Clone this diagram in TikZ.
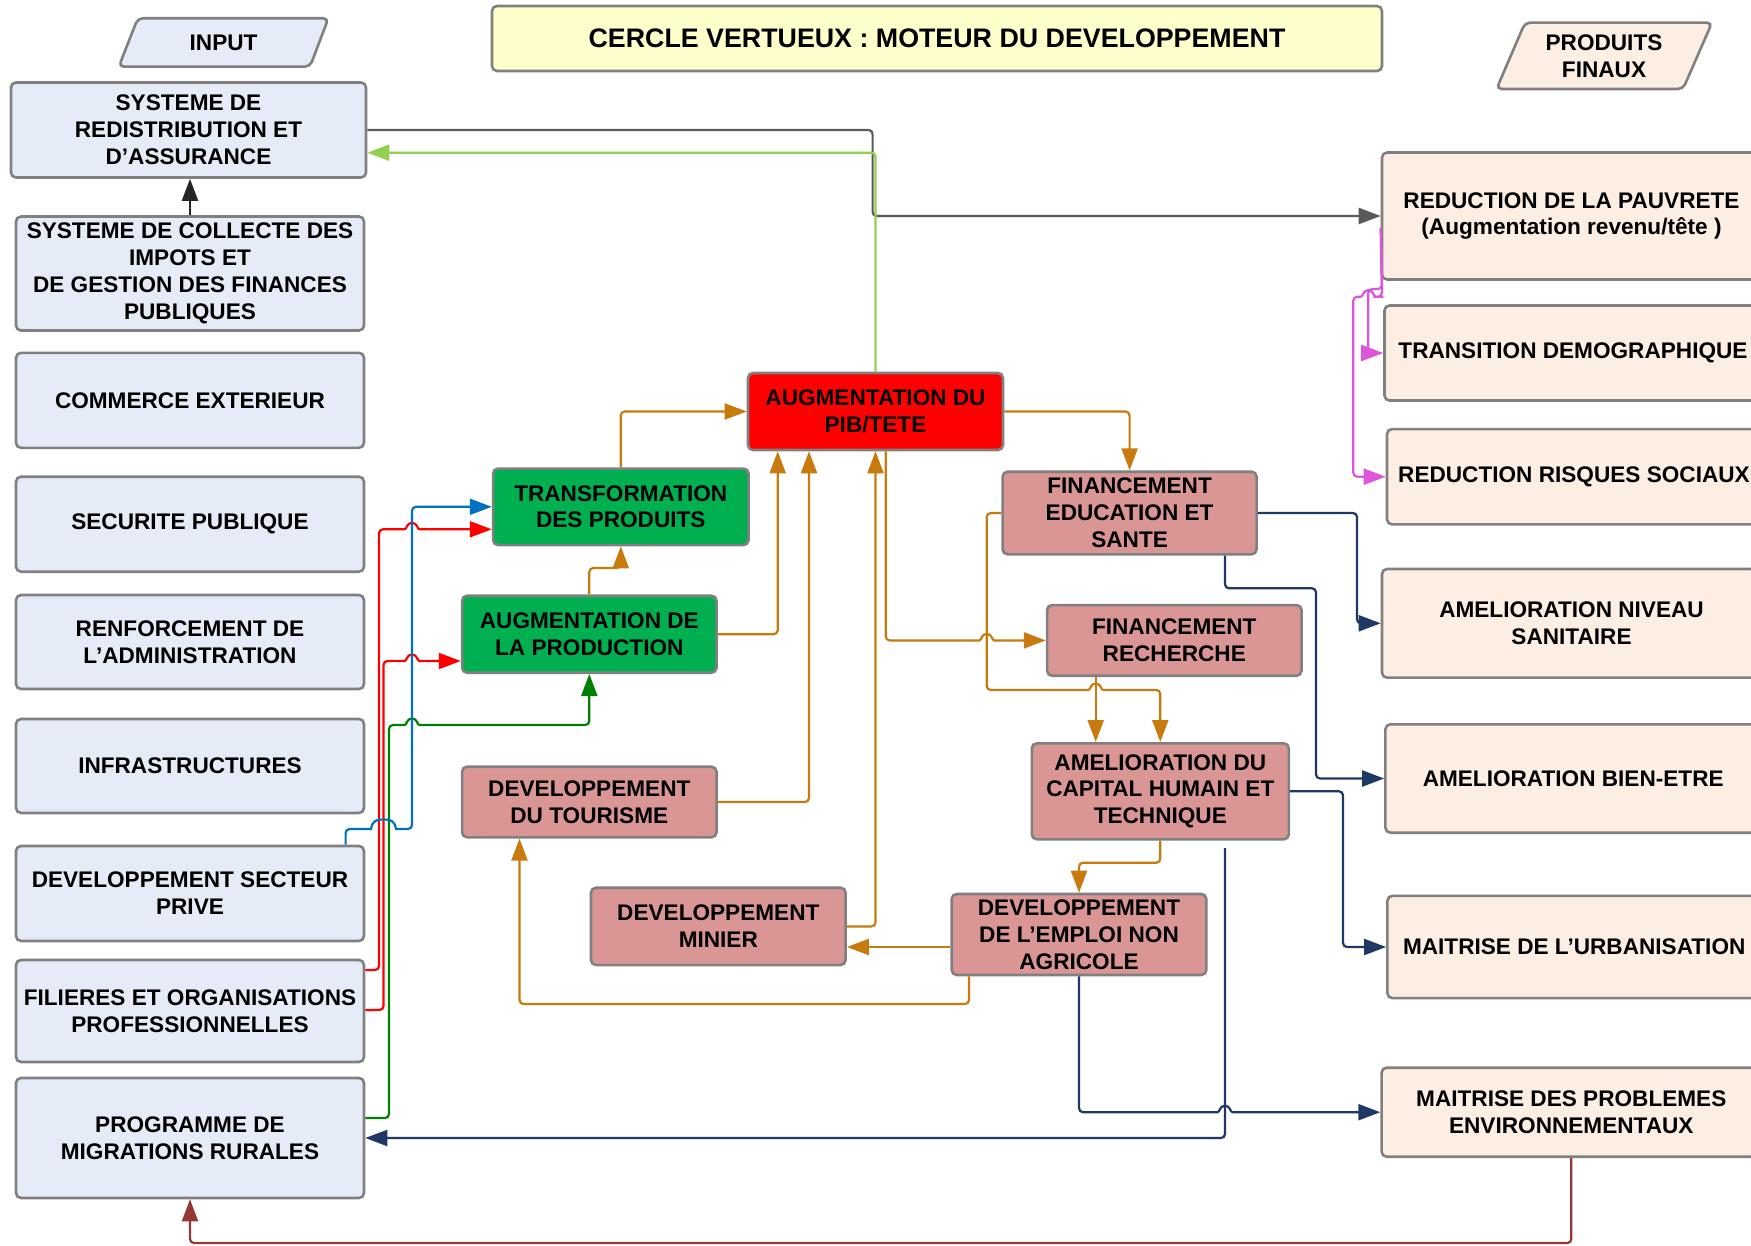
\documentclass[tikz,border=0pt]{standalone}
\usepackage{fontspec}
\setmainfont{Liberation Sans}
\usetikzlibrary{arrows.meta,calc}
\definecolor{leftfill}{RGB}{230,236,247}
\definecolor{rightfill}{RGB}{253,238,228}
\definecolor{pinkfill}{RGB}{217,150,148}
\definecolor{greenfill}{RGB}{0,176,80}
\definecolor{redfill}{RGB}{255,0,0}
\definecolor{titlefill}{RGB}{255,255,204}
\definecolor{bordergray}{RGB}{128,128,128}
\definecolor{corange}{RGB}{201,122,15}
\definecolor{cnavy}{RGB}{31,56,100}
\definecolor{cdred}{RGB}{149,55,53}
\definecolor{cmag}{RGB}{221,84,221}
\definecolor{clgreen}{RGB}{146,208,80}
\definecolor{cgray}{RGB}{89,89,89}
\definecolor{cblue}{RGB}{0,112,192}
\definecolor{cgreen}{RGB}{0,128,0}
\definecolor{cred}{RGB}{255,0,0}
\definecolor{cblack}{RGB}{38,38,38}
% horizontal line jumps (going right / going left) over a vertical line at x=#1, line at y=#2
\newcommand\hjr[2]{-- ({#1-11},{#2}) [sharp corners] -- ({#1-7.5},{#2}) .. controls ({#1-5},{#2}) and ({#1-5.5},{#2-6.5}) .. ({#1},{#2-6.5}) .. controls ({#1+5.5},{#2-6.5}) and ({#1+5},{#2}) .. ({#1+7.5},{#2}) -- ({#1+11},{#2}) [rounded corners=2pt]}
\newcommand\hjl[2]{-- ({#1+11},{#2}) [sharp corners] -- ({#1+7.5},{#2}) .. controls ({#1+5},{#2}) and ({#1+5.5},{#2-6.5}) .. ({#1},{#2-6.5}) .. controls ({#1-5.5},{#2-6.5}) and ({#1-5},{#2}) .. ({#1-7.5},{#2}) -- ({#1-11},{#2}) [rounded corners=2pt]}
\begin{document}
\begin{tikzpicture}[x=0.5pt,y=-0.5pt,
  nfont/.style={font=\bfseries\fontsize{11.3pt}{13.4pt}\selectfont},
  box/.style={draw=bordergray, line width=1.3pt, rounded corners=2.5pt, align=center, inner xsep=2pt, inner ysep=0.5pt, nfont},
  sz/.style 2 args={minimum width=#1*0.5pt, minimum height=#2*0.5pt},
  lbox/.style={box, fill=leftfill},
  rbox/.style={box, fill=rightfill},
  gbox/.style={box, fill=greenfill},
  pbox/.style={box, fill=pinkfill},
  conn/.style={line width=1.1pt, rounded corners=2pt, -{Triangle[length=11pt,width=8pt]}},
  para/.style={draw=bordergray, line width=1.3pt, rounded corners=2.5pt}
]
\useasboundingbox (0,0) rectangle (1751,1246);
\clip (0,0) rectangle (1751,1246);
\fill[white] (0,0) rectangle (1751,1246);

% headers
\filldraw[para, fill=leftfill] (137.8,18.3) -- (328.4,18.3) -- (310,66.7) -- (118.8,66.7) -- cycle;
\node[nfont] (input) at (223.6,42.5) {INPUT};
\filldraw[para, fill=rightfill] (1525,22.7) -- (1712,22.7) -- (1683,89) -- (1496.5,89) -- cycle;
\node[nfont, align=center] (prodfin) at (1604,56) {PRODUITS\\FINAUX};
\node[box, fill=titlefill, sz={890}{65}, font=\bfseries\fontsize{13.4pt}{15pt}\selectfont] (title) at (937,38.5) {CERCLE VERTUEUX : MOTEUR DU DEVELOPPEMENT};

% left column
\node[lbox, sz={355}{95}] (sred) at (188.5,130) {SYSTEME DE\\REDISTRIBUTION ET\\D’ASSURANCE};
\node[lbox, sz={348}{114}] (coll) at (190,273.5) {SYSTEME DE COLLECTE DES\\IMPOTS ET\\DE GESTION DES FINANCES\\PUBLIQUES};
\node[lbox, sz={348}{95}] (comm) at (190,400.3) {COMMERCE EXTERIEUR};
\node[lbox, sz={348}{95}] (secu) at (190,524.2) {SECURITE PUBLIQUE};
\node[lbox, sz={348}{94}] (renf) at (190,642) {RENFORCEMENT DE\\L’ADMINISTRATION};
\node[lbox, sz={348}{94}] (infra) at (190,766) {INFRASTRUCTURES};
\node[lbox, sz={348}{95}] (prive) at (190,893.5) {DEVELOPPEMENT SECTEUR\\PRIVE};
\node[lbox, sz={348}{102}] (fil) at (190,1011) {FILIERES ET ORGANISATIONS\\PROFESSIONNELLES};
\node[lbox, sz={348}{120}] (prog) at (190,1138) {PROGRAMME DE\\MIGRATIONS RURALES};

% middle
\node[gbox, sz={255.5}{76.5}] (trans) at (620.8,506.8) {TRANSFORMATION\\DES PRODUITS};
\node[gbox, sz={254.5}{77}] (prod) at (589.3,634.2) {AUGMENTATION DE\\LA PRODUCTION};
\node[box, fill=redfill, sz={255}{77}] (pib) at (875.5,411.5) {AUGMENTATION DU\\PIB/TETE};
\node[pbox, sz={254.5}{70.6}] (tour) at (589.3,802) {DEVELOPPEMENT\\DU TOURISME};
\node[pbox, sz={254.6}{77.3}] (minier) at (718.3,926.4) {DEVELOPPEMENT\\MINIER};
\node[pbox, sz={254.6}{81}] (emploi) at (1079,934.5) {DEVELOPPEMENT\\DE L’EMPLOI NON\\AGRICOLE};
\node[pbox, sz={257}{96}] (cap) at (1160.3,791.3) {AMELIORATION DU\\CAPITAL HUMAIN ET\\TECHNIQUE};
\node[pbox, sz={254}{82.6}] (educ) at (1129.6,513) {FINANCEMENT\\EDUCATION ET\\SANTE};
\node[pbox, sz={254.5}{70.7}] (rech) at (1174.3,640.4) {FINANCEMENT\\RECHERCHE};

% right column
\node[rbox, sz={379}{127}] (pauv) at (1571.5,216) {REDUCTION DE LA PAUVRETE\\(Augmentation revenu/tête )};
\node[rbox, sz={377}{95}] (tdem) at (1573,353) {TRANSITION DEMOGRAPHIQUE};
\node[rbox, sz={374}{95.3}] (risq) at (1574,476.7) {REDUCTION RISQUES SOCIAUX};
\node[rbox, sz={379}{108.7}] (sanit) at (1571.5,623.3) {AMELIORATION NIVEAU\\SANITAIRE};
\node[rbox, sz={375.6}{108.4}] (bien) at (1573.2,778.5) {AMELIORATION BIEN-ETRE};
\node[rbox, sz={373.6}{102.3}] (urb) at (1574.2,947) {MAITRISE DE L’URBANISATION};
\node[rbox, sz={379.4}{89}] (env) at (1571.3,1112.2) {MAITRISE DES PROBLEMES\\ENVIRONNEMENTAUX};

% connectors
\draw[conn, cblack] (coll.north) -- (coll.north |- sred.south);
\draw[conn, cgray] (sred.east) -- (872.6,130) |- (pauv.west);
\draw[conn, clgreen] (pib.north) |- ($(sred.east)+(0,22.7)$);

\draw[conn, cred] ($(fil.east)+(0,-41)$) -- (379,970) -- (379,529.3) \hjr{412}{529.3} -- ($(trans.west)+(0,22.5)$);
\draw[conn, cred] ($(fil.east)+(0,-1)$) -- (383.5,1010) -- (383.5,661) \hjr{412}{661} -- ($(prod.west)+(0,26.8)$);
\draw[conn, cgreen] ($(prog.east)+(0,-20)$) -- (389,1118) -- (389,725) \hjr{412}{725} -| (prod.south);
\draw[conn, cblue] ($(prive.north)+(155.6,0)$) -- (345.6,829) -- (366,829) [sharp corners] -- (371,829) .. controls (372.5,820) and (377,819.5) .. (383.5,819.5) .. controls (390,819.5) and (394.5,820) .. (396,829) -- (400,829) [rounded corners=2pt] -- (412,829) -- (412,506.8) -- (trans.west);

\draw[conn, corange] (trans.north) |- (pib.west);
\draw[conn, corange] (prod.north) -- (589.3,568) -| (trans.south);
\draw[conn, corange] (prod.east) -| ($(pib.south)+(-97.8,0)$);
\draw[conn, corange] (tour.east) -| ($(pib.south)+(-66.5,0)$);
\draw[conn, corange] (minier.east) -| (pib.south);
\draw[conn, corange] ($(pib.south)+(10.2,0)$) -- (885.7,640.4) \hjr{986.7}{640.4} -- (rech.west);
\draw[conn, corange] (pib.east) -| (educ.north);
\draw[conn, corange] (educ.west) -- (986.7,513) -- (986.7,690) \hjr{1095.7}{690} -| (cap.north);
\draw[conn, corange] ($(rech.south)+(-78.6,0)$) -- ($(cap.north)+(-64.6,0)$);
\draw[conn, corange] (cap.south) -- (1160.3,862.7) -| (emploi.north);
\draw[conn, corange] ($(emploi.west)+(0,12.5)$) -- ($(minier.east)+(0,20.6)$);
\draw[conn, corange] ($(emploi.south)+(-110,0)$) -- (969,1004) -| ($(tour.south)+(-69.8,0)$);

\draw[conn, cnavy] (educ.east) -- (1357,513) |- (sanit.west);
\draw[conn, cnavy] ($(educ.south)+(95.4,0)$) -- (1225,588.3) -- (1316,588.3) |- (bien.west);
\draw[conn, cnavy] (cap.east) -- (1343,791.3) |- (urb.west);
\draw[conn, cnavy] ($(cap.south)+(64.7,7.4)$) -- (1225,1138) -- (prog.east);
\draw[conn, cnavy] (emploi.south) -- (1079,1112.2) \hjr{1225}{1112.2} -- (env.west);

\draw[conn, cdred] (env.south) -- (1571.3,1243) -| (prog.south);

\draw[conn, cmag] ($(pauv.west)+(0,12)$) -- (1382,289) -- (1368.3,289) -- (1368.3,353) -- (tdem.west);
\draw[conn, cmag] ($(pauv.west)+(0,12)$) -- (1382,296.7) \hjl{1368.3}{296.7} -- (1353.3,296.7) -- (1353.3,476.7) -- (risq.west);
\end{tikzpicture}
\end{document}
